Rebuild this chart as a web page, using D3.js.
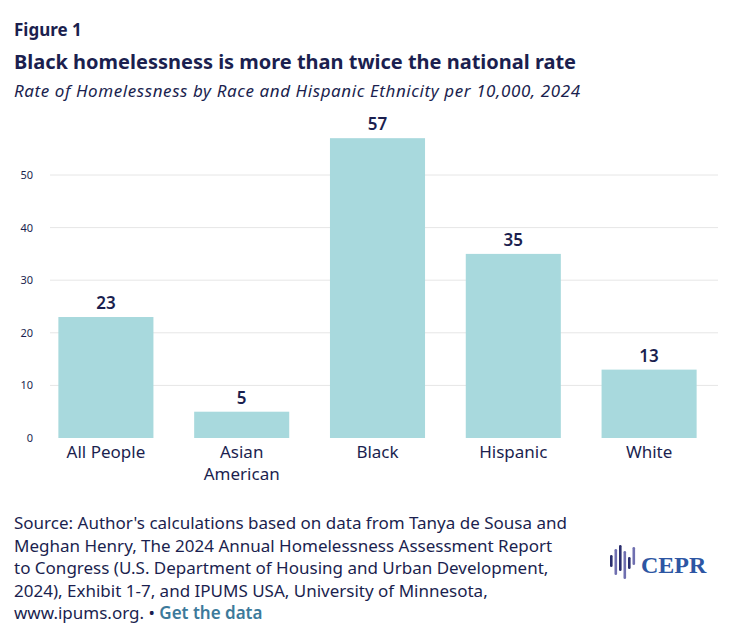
<!DOCTYPE html>
<html><head><meta charset="utf-8">
<script src="https://cdn.jsdelivr.net/npm/d3@7"></script>
<style>
body{margin:0;background:#fff;font-family:"Noto Sans",sans-serif;}
</style></head><body>
<div id="chart"></div>
<script>
const categories = ["All People", "Asian American", "Black", "Hispanic", "White"];
const values = [23, 5, 57, 35, 13];
const yTicks = [0, 10, 20, 30, 40, 50];

const navy = "#1b1f4f";
const svg = d3.select("#chart").append("svg").attr("width", 730).attr("height", 640);

svg.append("text").attr("x", 14).attr("y", 36).attr("font-size", 17).attr("font-weight", 700)
  .attr("fill", navy).text("Figure 1");
svg.append("text").attr("x", 14).attr("y", 69).attr("font-size", 20).attr("font-weight", 700)
  .attr("fill", navy).attr("textLength", 562).text("Black homelessness is more than twice the national rate");
svg.append("text").attr("x", 14).attr("y", 97).attr("font-size", 17).attr("font-style", "italic")
  .attr("fill", navy).attr("textLength", 566).text("Rate of Homelessness by Race and Hispanic Ethnicity per 10,000, 2024");

const x = d3.scaleBand().domain(categories).range([38, 717]).paddingInner(0.3).paddingOuter(0.15);
const y = d3.scaleLinear().domain([0, 50]).range([438, 175]);

const g = svg.append("g");
g.selectAll(".grid").data(yTicks.slice(1)).enter().append("line")
  .attr("x1", 50).attr("x2", 718).attr("y1", d => y(d)).attr("y2", d => y(d))
  .attr("stroke", "#e6e6e6");

const yAxis = g.append("g").attr("transform", "translate(36,0)")
  .call(d3.axisLeft(y).tickValues(yTicks).tickSize(0));
yAxis.select(".domain").remove();
yAxis.selectAll("text").attr("font-size", 11).attr("fill", navy).attr("font-family", "Noto Sans");

g.selectAll(".bar").data(values).enter().append("rect")
  .attr("x", (d, i) => x(categories[i])).attr("width", x.bandwidth())
  .attr("y", d => y(d)).attr("height", d => y(0) - y(d)).attr("fill", "#a8d9dd");

g.selectAll(".val").data(values).enter().append("text")
  .attr("x", (d, i) => x(categories[i]) + x.bandwidth() / 2).attr("y", d => y(d) - 8)
  .attr("text-anchor", "middle").attr("font-size", 17).attr("font-weight", 600).attr("fill", navy)
  .text(d => d);

const xAxis = g.append("g").attr("transform", `translate(0,${y(0)})`)
  .call(d3.axisBottom(x).tickSize(0).tickPadding(8));
xAxis.select(".domain").remove();
xAxis.selectAll("text").attr("font-size", 17).attr("fill", navy).attr("font-family", "Noto Sans")
  .each(function(d) {
    const words = d.split(" ");
    if (words.length > 1 && d !== "All People") {
      const t = d3.select(this).text(null);
      words.forEach((w, i) => t.append("tspan").attr("x", 0).attr("dy", i ? "1.3em" : "0.71em").text(w));
    }
  });

const src = ["Source: Author's calculations based on data from Tanya de Sousa and",
  "Meghan Henry, The 2024 Annual Homelessness Assessment Report",
  "to Congress (U.S. Department of Housing and Urban Development,",
  "2024), Exhibit 1-7, and IPUMS USA, University of Minnesota,"];
src.forEach((s, i) => svg.append("text").attr("x", 14).attr("y", 529 + i * 22.5)
  .attr("font-size", 17).attr("fill", navy).text(s));
const last = svg.append("text").attr("x", 14).attr("y", 619).attr("font-size", 17).attr("fill", navy);
last.append("tspan").text("www.ipums.org.  • ");
last.append("tspan").attr("fill", "#3d7a9b").attr("font-weight", 600).text("Get the data");

// logo
const logo = svg.append("g").attr("transform", "translate(610,545)");
const cols = [[10, 22], [4, 30], [0, 26], [6, 34], [12, 24], [2, 20]];
cols.forEach((c, i) => {
  logo.append("rect").attr("x", i * 4.5).attr("y", c[0]).attr("width", 2.6).attr("height", c[1] - c[0])
    .attr("rx", 1.3).attr("fill", i % 2 ? "#6f6fb0" : "#2a2e6e");
});
logo.append("text").attr("x", 31).attr("y", 28).attr("font-family", "Liberation Serif").attr("font-weight", 700)
  .attr("font-size", 24).attr("fill", "#2d56a3").text("CEPR");
</script>
</body></html>
